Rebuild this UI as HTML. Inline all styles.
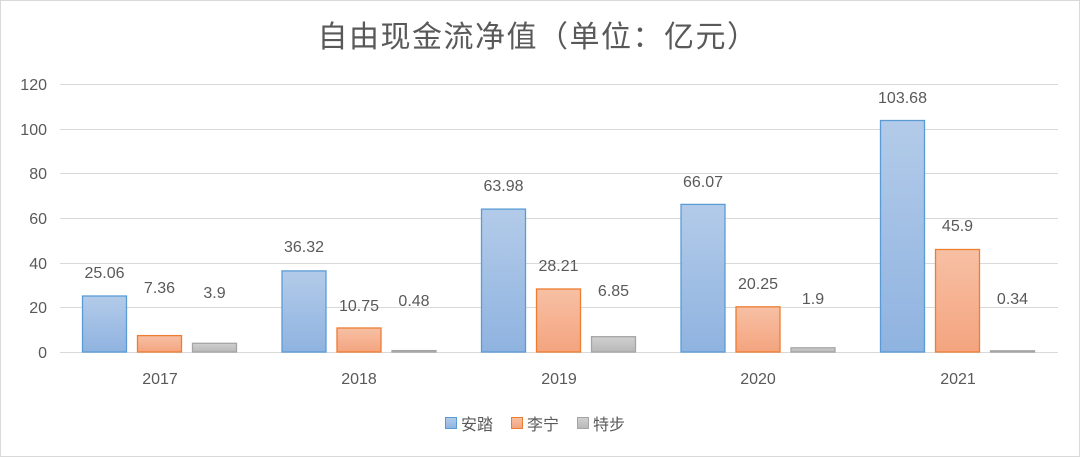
<!DOCTYPE html>
<html><head><meta charset="utf-8"><style>
body{margin:0;background:#fff}
svg{display:block}
text{font-family:"Liberation Sans","Noto Sans CJK SC",sans-serif;fill:#595959}
</style></head><body>
<svg width="1080" height="457" viewBox="0 0 1080 457">
<defs>
<linearGradient id="gb" x1="0" y1="0" x2="0" y2="1"><stop offset="0" stop-color="#b3cbe9"/><stop offset="1" stop-color="#8fb3e0"/></linearGradient>
<linearGradient id="go" x1="0" y1="0" x2="0" y2="1"><stop offset="0" stop-color="#f7c0a4"/><stop offset="1" stop-color="#f4a47f"/></linearGradient>
<linearGradient id="gg" x1="0" y1="0" x2="0" y2="1"><stop offset="0" stop-color="#d0d0d0"/><stop offset="1" stop-color="#b8b8b8"/></linearGradient>
</defs>
<rect x="0.5" y="0.5" width="1079" height="456" fill="#fff" stroke="#d9d9d9"/>
<text x="538" y="47" font-size="30" letter-spacing="1.5" text-anchor="middle">自由现金流净值（单位：亿元）</text>
<g stroke="#d9d9d9" stroke-width="1">
<line x1="60" x2="1058" y1="84.5" y2="84.5"/><line x1="60" x2="1058" y1="129.5" y2="129.5"/>
<line x1="60" x2="1058" y1="173.5" y2="173.5"/><line x1="60" x2="1058" y1="218.5" y2="218.5"/>
<line x1="60" x2="1058" y1="263.5" y2="263.5"/><line x1="60" x2="1058" y1="307.5" y2="307.5"/>
<line x1="60" x2="1058" y1="352.5" y2="352.5"/>
</g>
<g font-size="16" text-anchor="end">
<text x="47" y="90">120</text><text x="47" y="135">100</text><text x="47" y="179">80</text>
<text x="47" y="224">60</text><text x="47" y="269">40</text><text x="47" y="313">20</text><text x="47" y="358">0</text>
</g>
<g stroke-width="1.3">
<rect x="82.5" y="296" width="44" height="56" fill="url(#gb)" stroke="#5b9bd5"/>
<rect x="137.5" y="335.6" width="44" height="16.4" fill="url(#go)" stroke="#ed7d31"/>
<rect x="192.5" y="343.3" width="44" height="8.7" fill="url(#gg)" stroke="#a5a5a5"/>
<rect x="282" y="270.9" width="44" height="81.1" fill="url(#gb)" stroke="#5b9bd5"/>
<rect x="337" y="328" width="44" height="24" fill="url(#go)" stroke="#ed7d31"/>
<rect x="392" y="350.6" width="44" height="1.4" fill="url(#gg)" stroke="#a5a5a5"/>
<rect x="481.5" y="209.1" width="44" height="142.9" fill="url(#gb)" stroke="#5b9bd5"/>
<rect x="536.5" y="289" width="44" height="63" fill="url(#go)" stroke="#ed7d31"/>
<rect x="591.5" y="336.7" width="44" height="15.3" fill="url(#gg)" stroke="#a5a5a5"/>
<rect x="681" y="204.4" width="44" height="147.6" fill="url(#gb)" stroke="#5b9bd5"/>
<rect x="736" y="306.8" width="44" height="45.2" fill="url(#go)" stroke="#ed7d31"/>
<rect x="791" y="347.8" width="44" height="4.2" fill="url(#gg)" stroke="#a5a5a5"/>
<rect x="880.5" y="120.5" width="44" height="231.5" fill="url(#gb)" stroke="#5b9bd5"/>
<rect x="935.5" y="249.5" width="44" height="102.5" fill="url(#go)" stroke="#ed7d31"/>
<rect x="990.5" y="350.8" width="44" height="1.2" fill="url(#gg)" stroke="#a5a5a5"/>
</g>
<g font-size="16" text-anchor="middle">
<text x="104.5" y="278">25.06</text><text x="159.5" y="293">7.36</text><text x="214.5" y="298">3.9</text>
<text x="304" y="252">36.32</text><text x="359" y="311">10.75</text><text x="414" y="306">0.48</text>
<text x="503.5" y="191">63.98</text><text x="558.5" y="271">28.21</text><text x="613.5" y="296">6.85</text>
<text x="703" y="187">66.07</text><text x="758" y="289">20.25</text><text x="813" y="304">1.9</text>
<text x="902.5" y="103">103.68</text><text x="957.5" y="231">45.9</text><text x="1012.5" y="304">0.34</text>
</g>
<g font-size="16" text-anchor="middle">
<text x="160" y="384">2017</text><text x="359" y="384">2018</text><text x="559" y="384">2019</text>
<text x="758" y="384">2020</text><text x="958" y="384">2021</text>
</g>
<g font-size="16">
<rect x="445.5" y="417.5" width="11" height="11" fill="url(#gb)" stroke="#5b9bd5"/><text x="461" y="430">安踏</text>
<rect x="511.5" y="417.5" width="11" height="11" fill="url(#go)" stroke="#ed7d31"/><text x="527" y="430">李宁</text>
<rect x="577.5" y="417.5" width="11" height="11" fill="url(#gg)" stroke="#a5a5a5"/><text x="593" y="430">特步</text>
</g>
</svg>
</body></html>
